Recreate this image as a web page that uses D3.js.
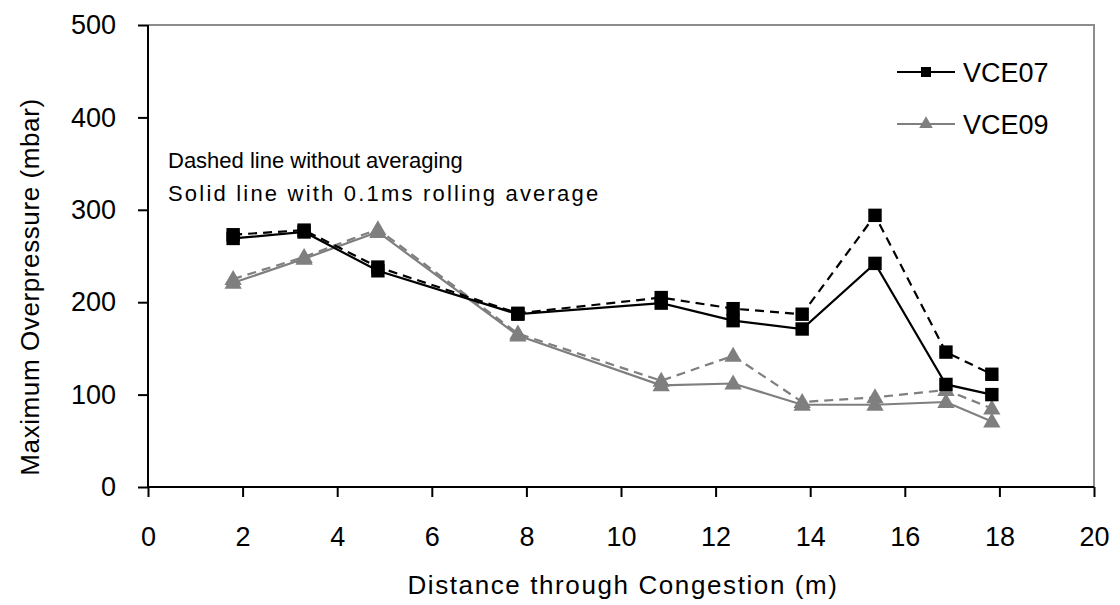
<!DOCTYPE html>
<html><head><meta charset="utf-8">
<script src="https://cdn.jsdelivr.net/npm/d3@7"></script>
<style>body{margin:0;background:#fff}svg{display:block}text{font-family:"Liberation Sans",Arial,sans-serif}</style>
</head><body><svg id="c" width="1120" height="605"></svg>
<script>
const distance = [1.8, 3.3, 4.86, 7.82, 10.85, 12.37, 13.83, 15.37, 16.87, 17.84];
const vce07Raw = [273, 278, 238, 188, 205, 193, 187, 294, 146, 122];
const vce07Avg = [269, 276, 234, 187, 199, 180, 171, 242, 111, 100];
const vce09Raw = [225, 249, 279, 166, 115, 142, 92, 97, 105, 85];
const vce09Avg = [221, 247, 276, 164, 110, 112, 89, 89, 92, 71];
const xTicks = [0,2,4,6,8,10,12,14,16,18,20];
const yTicks = [0,100,200,300,400,500];
const seriesNames = ["VCE07","VCE09"];
const notes = ["Dashed line without averaging","Solid line with 0.1ms rolling average"];

const svg = d3.select("#c");
const L=148,R=1094,T=25,B=487;
const x = d3.scaleLinear().domain([0,20]).range([L,R]);
const y = d3.scaleLinear().domain([0,500]).range([B,T]);

svg.append("path").attr("d",`M${L},${T}H${R}V${B}`).attr("fill","none").attr("stroke","#8c8c8c").attr("stroke-width",2);

const xa = svg.append("g").attr("transform",`translate(0,${B})`)
  .call(d3.axisBottom(x).tickValues(xTicks).tickSize(10).tickPadding(30).tickFormat(d3.format("d")));
const ya = svg.append("g").attr("transform",`translate(${L},0)`)
  .call(d3.axisLeft(y).tickValues(yTicks).tickSize(10).tickPadding(22).tickFormat(d3.format("d")));
[xa,ya].forEach(a=>{a.attr("font-size",null).attr("font-family",null);
  a.selectAll("path").attr("stroke","#000").attr("stroke-width",2);
  a.selectAll("line").attr("stroke","#000").attr("stroke-width",2);
  a.selectAll("text").style("font-size","27px").attr("fill","#000");});
xa.select(".domain").attr("d",`M${L},0H${R}`);
ya.select(".domain").attr("d",`M0,${B}V${T}`);

svg.append("text").attr("x",(L+R)/2+2).attr("y",594).attr("text-anchor","middle").style("font-size","26px").style("letter-spacing","1.6px").text("Distance through Congestion (m)");
svg.append("text").attr("transform",`translate(39,${(T+B)/2+31}) rotate(-90)`).attr("text-anchor","middle").style("font-size","26px").style("letter-spacing","0.6px").text("Maximum Overpressure  (mbar)");

svg.append("text").attr("x",168).attr("y",168).style("font-size","22px").text(notes[0]);
svg.append("text").attr("x",168).attr("y",201).style("font-size","22px").style("letter-spacing","2.2px").text(notes[1]);

const line = d3.line().x(d=>x(d[0])).y(d=>y(d[1]));
const sq = d3.symbol().type(d3.symbolSquare).size(180);
const tri = d3.symbol().type(d3.symbolTriangle).size(130);
const series = [
 {v:vce09Raw,c:"#7f7f7f",dash:"9,6",sym:tri},
 {v:vce09Avg,c:"#7f7f7f",dash:null,sym:tri},
 {v:vce07Raw,c:"#000",dash:"9,6",sym:sq},
 {v:vce07Avg,c:"#000",dash:null,sym:sq}
];
series.forEach(s=>{
  const pts = distance.map((d,i)=>[d,s.v[i]]);
  svg.append("path").attr("d",line(pts)).attr("fill","none").attr("stroke",s.c).attr("stroke-width",2.2)
    .attr("stroke-dasharray",s.dash);
  svg.append("g").selectAll("path").data(pts).join("path")
    .attr("transform",d=>`translate(${x(d[0])},${y(d[1])+(s.sym===tri?1:0)})`).attr("d",s.sym).attr("fill",s.c);
});

const leg = [{n:seriesNames[0],c:"#000",sym:d3.symbol().type(d3.symbolSquare).size(100),y:72},
             {n:seriesNames[1],c:"#7f7f7f",sym:d3.symbol().type(d3.symbolTriangle).size(80),y:124}];
leg.forEach(l=>{
  svg.append("line").attr("x1",897).attr("x2",955).attr("y1",l.y).attr("y2",l.y).attr("stroke",l.c).attr("stroke-width",2);
  svg.append("path").attr("d",l.sym).attr("transform",`translate(926,${l.y})`).attr("fill",l.c);
  svg.append("text").attr("x",963).attr("y",l.y+10).style("font-size","27px").text(l.n);
});
</script></body></html>
